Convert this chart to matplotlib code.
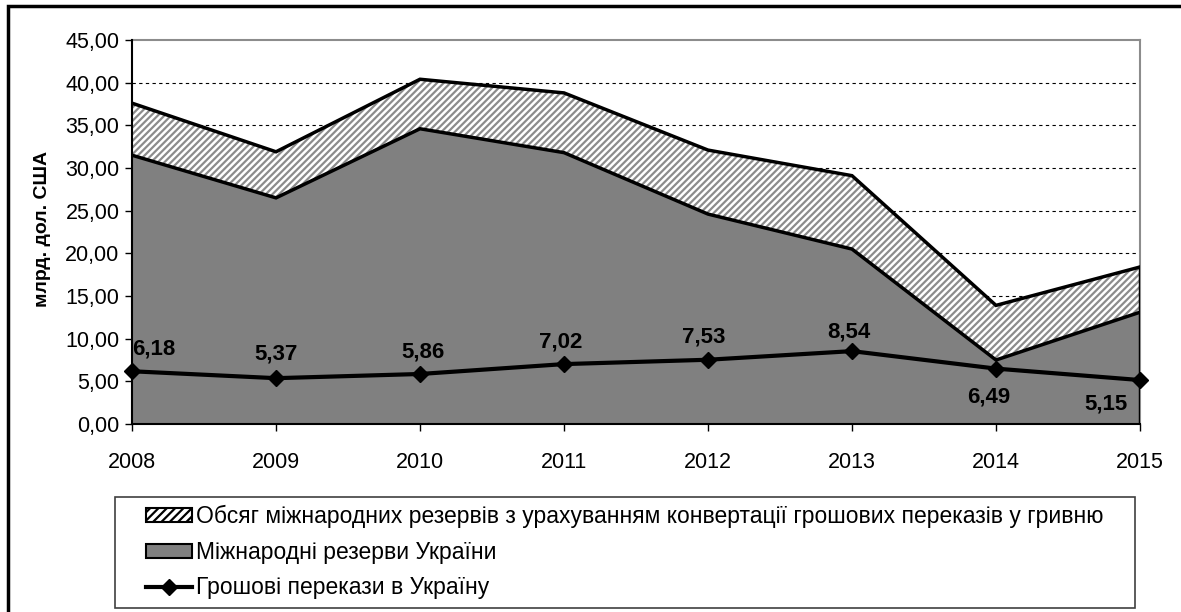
import matplotlib.pyplot as plt
from matplotlib.patches import Patch, Rectangle
from matplotlib.lines import Line2D

plt.rcParams['font.family'] = ['Liberation Sans', 'DejaVu Sans']
plt.rcParams['hatch.linewidth'] = 1.6
plt.rcParams['hatch.color'] = '#8c8c8c'

years = [2008, 2009, 2010, 2011, 2012, 2013, 2014, 2015]
# International reserves of Ukraine (bn USD)
reserves = [31.5, 26.5, 34.6, 31.8, 24.6, 20.5, 7.5, 13.1]
# Reserves including converted remittances (bn USD)
reserves_total = [37.6, 31.9, 40.4, 38.8, 32.1, 29.1, 13.9, 18.4]
# Remittances to Ukraine (bn USD)
remittances = [6.18, 5.37, 5.86, 7.02, 7.53, 8.54, 6.49, 5.15]
# label offsets in pixels (dx, dy)
label_offsets = [(22, 22), (0, 24), (3, 22), (-3, 22), (-4, 23), (-3, 19), (-7, -28), (-34, -24)]

W, H = 1181, 612
fig = plt.figure(figsize=(W / 100, H / 100), dpi=100)
ax = fig.add_axes([132 / W, 1 - 424 / H, (1140 - 132) / W, (424 - 40) / H])

# hatched band (total reserves) and gray area (reserves)
ax.fill_between(years, 0, reserves_total, facecolor='white', edgecolor='#8c8c8c',
                hatch='/////', linewidth=0, zorder=2)
ax.fill_between(years, 0, reserves, facecolor='#808080', linewidth=0, zorder=3)
ax.plot(years, reserves_total, color='black', lw=2.5, zorder=4, solid_joinstyle='miter')
ax.plot(years, reserves, color='black', lw=2.5, zorder=4, solid_joinstyle='miter')
ax.plot([years[-1], years[-1]], [0, reserves_total[-1]], color='black', lw=2.5, zorder=4)

# remittances line
ax.plot(years, remittances, color='black', lw=3, marker='D', markersize=8.5,
        zorder=6, clip_on=False)
for x, v, (dx, dy) in zip(years, remittances, label_offsets):
    ax.annotate(f'{v:.2f}'.replace('.', ','), (x, v), xytext=(dx, dy),
                textcoords='offset pixels', ha='center', va='center',
                fontsize=16, fontweight='bold', zorder=7)

ax.set_xlim(2008, 2015)
ax.set_ylim(0, 45)
ax.set_yticks(range(0, 46, 5))
ax.set_yticklabels([f'{v:.2f}'.replace('.', ',') for v in range(0, 46, 5)], fontsize=15.5)
ax.set_xticks(years)
ax.set_xticklabels([str(y) for y in years], fontsize=15.5)
ax.tick_params(axis='both', direction='out', length=5, width=1, color='black', pad=4)
ax.tick_params(axis='x', pad=15)

for v in range(5, 45, 5):
    ax.axhline(v, color='black', lw=0.8, ls=(0, (3, 3)), zorder=1)

ax.spines['left'].set_linewidth(1.5)
ax.spines['bottom'].set_linewidth(1.5)
ax.spines['left'].set_zorder(5)
ax.spines['bottom'].set_zorder(5)
ax.spines['top'].set_color('#8c8c8c')
ax.spines['right'].set_color('#8c8c8c')
ax.spines['top'].set_linewidth(1.5)
ax.spines['right'].set_linewidth(1.5)

fig.text(43 / W, 1 - 229 / H, 'млрд. дол. США', rotation=90, ha='center', va='center',
         fontsize=14, fontweight='bold')

handles = [
    Patch(facecolor='white', edgecolor='black', hatch='////', linewidth=1.5),
    Patch(facecolor='#808080', edgecolor='black', linewidth=1.5),
    Line2D([], [], color='black', lw=3, marker='D', markersize=8.5),
]
labels = [
    'Обсяг міжнародних резервів з урахуванням конвертації грошових переказів у гривню',
    'Міжнародні резерви України',
    'Грошові перекази в Україну',
]
leg = fig.legend(handles, labels, loc='upper left', bbox_to_anchor=(146 / W, 1 - 505 / H),
                 borderaxespad=0, fontsize=16.5, frameon=False,
                 handlelength=2.0, handleheight=0.55, handletextpad=0.18,
                 labelspacing=0.55, borderpad=0)

# legend box
fig.add_artist(Rectangle((115 / W, 1 - 608 / H), (1135 - 115) / W, (608 - 497) / H,
                         transform=fig.transFigure, fill=False, edgecolor='#404040', lw=1.2))

# outer frame
fig.add_artist(Rectangle((8 / W, -0.1), 1.2, 1.1 - 6 / H, transform=fig.transFigure,
                         fill=False, edgecolor='black', lw=2.5, clip_on=False))

fig.savefig('out.png', dpi=100)
